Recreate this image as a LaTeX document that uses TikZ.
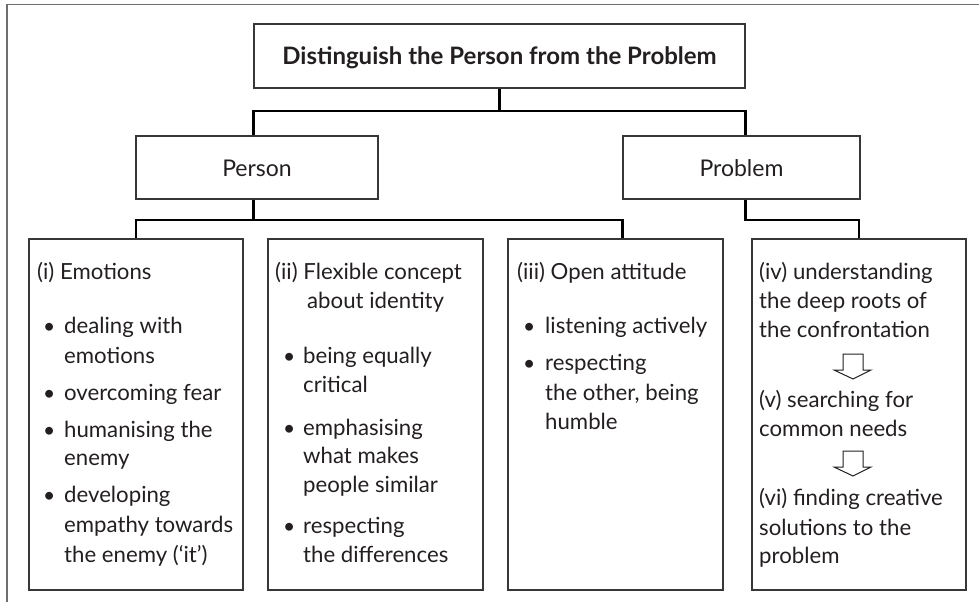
\documentclass[tikz,border=0pt]{standalone}
\usepackage{fontspec}
\setmainfont{Lato}
\definecolor{ink}{RGB}{35,31,32}
\definecolor{frameline}{RGB}{110,110,110}
\definecolor{boxline}{RGB}{55,55,55}
\begin{document}
\begin{tikzpicture}[x=1pt,y=-1pt,
  box/.style={draw=boxline, line width=1.3pt, inner sep=0pt, text=ink},
  conn/.style={draw=black, line width=2.4pt},
  txt/.style={anchor=base west, inner sep=0pt, text=ink, font=\fontsize{22.2}{26}\selectfont},
  bul/.style={anchor=base west, inner sep=0pt, text=ink, font=\fontsize{21}{25}\selectfont},
  hollow/.style={draw=ink, line width=1pt, line join=miter}]
\useasboundingbox (0,0) rectangle (979,602);

% open frame round the chart
\draw[frameline, line width=1.5pt] (7,602) -- (7,4.5) -- (979,4.5);

% heading and the two branches
\node[box, minimum width=491pt, minimum height=64pt, text height=17pt, text depth=0pt,
      font=\bfseries\fontsize{24}{28}\selectfont] (title) at (499.5,56)
      {Distinguish the Person from the Problem};
\node[box, minimum width=242pt, minimum height=63pt, text height=17pt, text depth=0pt,
      font=\fontsize{23}{27}\selectfont] (person) at (257,167.5) {Person};
\node[box, minimum width=237pt, minimum height=63pt, text height=17pt, text depth=0pt,
      font=\fontsize{23}{27}\selectfont] (problem) at (741.5,167.5) {Problem};

% the four detail boxes
\node[box, minimum width=214pt, minimum height=351pt] (boxi)   at (136,414.5) {};
\node[box, minimum width=215pt, minimum height=351pt] (boxii)  at (375.5,414.5) {};
\node[box, minimum width=215pt, minimum height=351pt] (boxiii) at (615.5,414.5) {};
\node[box, minimum width=214pt, minimum height=351pt] (boxiv)  at (859,414.5) {};

% connector levels
\coordinate (bus1) at (0,111);
\coordinate (bus2) at (0,220);

\draw[conn] (title.south) -- (title.south |- bus1);
\draw[conn] (person.north -| title.west) |- (title.east |- bus1) -- (problem.north -| title.east);
\draw[conn] (person.south -| title.west) -- (title.west |- bus2);
\draw[conn] (boxi.north) |- (problem.west |- bus2) -- (problem.west |- boxiii.north);
\draw[conn] (problem.south -| title.east) |- (boxiv.north |- bus2) -- (boxiv.north);

% (i) Emotions
\node[txt] (i0) at (37,279) {(i) Emotions};
\foreach \y [count=\k] in {333,400,437,502}
  \node[bul] (ib\k) at (43,\y) {•};
\foreach \y/\t [count=\k] in {333/dealing with, 363/emotions, 400/overcoming fear,
    437/humanising the, 465.5/enemy, 502/developing, 532.5/empathy towards, 562/the enemy (‘it’)}
  \node[txt] (it\k) at (64,\y) {\t};

% (ii) Flexible concept about identity
\node[txt] (ii0) at (275,279) {(ii) Flexible concept};
\node[txt] (ii00) at (307,308) {about identity};
\foreach \y [count=\k] in {363,435.5,533}
  \node[bul] (iib\k) at (283,\y) {•};
\foreach \y/\t [count=\k] in {363/being equally, 392/critical, 435.5/emphasising,
    463.5/what makes, 492/people similar, 533/respecting, 562/the differences}
  \node[txt] (iit\k) at (303,\y) {\t};

% (iii) Open attitude
\node[txt] (iii0) at (517,279) {(iii) Open attitude};
\foreach \y [count=\k] in {333,370}
  \node[bul] (iiib\k) at (523,\y) {•};
\foreach \y/\t [count=\k] in {333/listening actively, 370/respecting,
    400.5/{the other, being}, 429/humble}
  \node[txt] (iiit\k) at (545,\y) {\t};

% (iv)-(vi) steps on the problem side
\foreach \y/\t [count=\k] in {279/(iv) understanding, 308/the deep roots of,
    337/the confrontation, 407/(v) searching for, 436/common needs,
    505/(vi) finding creative, 535/solutions to the, 563/problem}
  \node[txt] (ivt\k) at (759,\y) {\t};

% hollow block arrows between the steps
\foreach \t/\h/\b in {354/370/379, 451/467/476}
  \draw[hollow] (843,\t) -- (843,\h) -- (834,\h) -- (853,\b)
                -- (871,\h) -- (863,\h) -- (863,\t) -- cycle;
\end{tikzpicture}
\end{document}
